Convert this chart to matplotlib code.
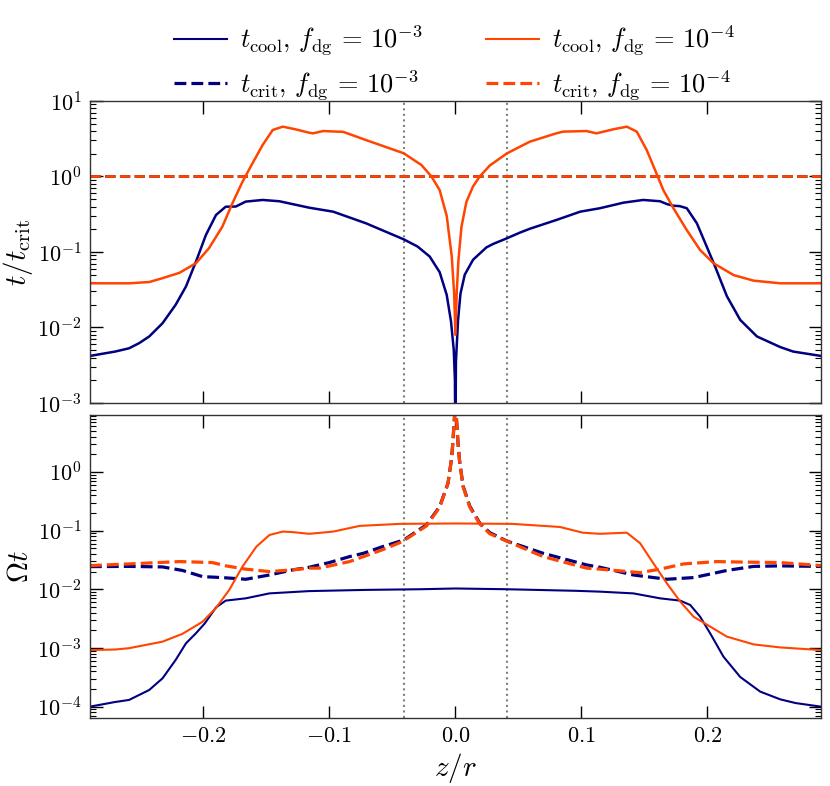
import numpy as np
import matplotlib
matplotlib.use("Agg")
import matplotlib.pyplot as plt
from matplotlib.ticker import LogLocator, NullLocator, NullFormatter

plt.rcParams['mathtext.fontset'] = 'cm'
plt.rcParams['font.family'] = 'serif'
plt.rcParams['font.serif'] = ['cmr10', 'DejaVu Serif']
plt.rcParams['axes.formatter.use_mathtext'] = True
plt.rcParams['font.size'] = 16

# Colours
c_hi = 'navy'        # f_dg = 1e-3
c_lo = '#ff4500'     # f_dg = 1e-4

# ---- top panel: t / t_crit ----
z_top_hi = [-0.290, -0.270, -0.259, -0.251, -0.243, -0.2324, -0.222, -0.2138, -0.2059,
            -0.198, -0.190, -0.1823, -0.1743, -0.1664, -0.153, -0.1397, -0.116, -0.097,
            -0.071, -0.041, -0.030, -0.0204, -0.0125, -0.0069, -0.0035, -0.0013,
            -0.0004, 0.0,
            0.0004, 0.0021, 0.004, 0.0074, 0.014, 0.0246, 0.030, 0.0405, 0.051, 0.059,
            0.080, 0.099, 0.1147, 0.1333, 0.149, 0.1624, 0.168, 0.173, 0.178,
            0.1836, 0.1916, 0.1995, 0.2061, 0.2154, 0.226, 0.2393, 0.2578, 0.268,
            0.290]
ratio_hi = [0.0042, 0.0048, 0.0053, 0.0062, 0.0076, 0.0114, 0.020, 0.035, 0.0745,
            0.168, 0.309, 0.398, 0.40, 0.465, 0.489, 0.47, 0.386, 0.342,
            0.24, 0.147, 0.118, 0.087, 0.054, 0.027, 0.012, 0.005,
            0.002, 0.0002,
            0.0035, 0.0126, 0.028, 0.050, 0.079, 0.115, 0.128, 0.151, 0.180, 0.203,
            0.265, 0.342, 0.38, 0.45, 0.489, 0.47, 0.43, 0.41, 0.405,
            0.38, 0.24, 0.117, 0.064, 0.026, 0.0126, 0.0076, 0.0055, 0.0048,
            0.0042]

z_top_lo = [-0.290, -0.259, -0.243, -0.2324, -0.219, -0.2059, -0.1956, -0.185, -0.177,
            -0.169, -0.161, -0.153, -0.145, -0.137, -0.127, -0.116, -0.113, -0.105,
            -0.089, -0.071, -0.041, -0.027, -0.019, -0.0125, -0.0069, -0.0029,
            -0.001, 0.0,
            0.001, 0.0024, 0.0048, 0.0087, 0.014, 0.0193, 0.0273, 0.041, 0.059,
            0.080, 0.0855, 0.104, 0.112, 0.1253, 0.136, 0.1439, 0.1518, 0.1584,
            0.165, 0.173, 0.1836, 0.1942, 0.2048, 0.2207, 0.2366, 0.2578, 0.290]
ratio_lo = [0.0385, 0.0385, 0.040, 0.045, 0.053, 0.071, 0.112, 0.216, 0.44,
            0.85, 1.50, 2.61, 4.13, 4.57, 4.22, 3.80, 3.73, 4.0,
            3.9, 3.04, 2.03, 1.42, 1.0, 0.66, 0.30, 0.087,
            0.028, 0.008,
            0.028, 0.078, 0.216, 0.46, 0.74, 1.0, 1.40, 2.03, 2.89,
            3.73, 3.93, 4.0, 3.73, 4.22, 4.57, 3.93, 2.24, 1.22,
            0.66, 0.38, 0.195, 0.106, 0.071, 0.0495, 0.0417, 0.0385, 0.0385]

z_span = [-0.29, 0.29]
ratio_crit = [1.0, 1.0]

# ---- bottom panel: Omega t ----
z_cool_hi = [-0.290, -0.270, -0.259, -0.243, -0.2324, -0.222, -0.2138, -0.2059, -0.199,
             -0.190, -0.1823, -0.1664, -0.1476, -0.116, -0.071, -0.028, 0.0,
             0.041, 0.096, 0.1147, 0.1412, 0.1624, 0.1783, 0.1863, 0.1942, 0.2021,
             0.2127, 0.226, 0.2419, 0.2578, 0.270, 0.290]
om_cool_hi = [1.0e-4, 1.2e-4, 1.3e-4, 1.92e-4, 3.04e-4, 6.25e-4, 1.2e-3, 1.78e-3, 2.6e-3,
              4.9e-3, 6.4e-3, 7.0e-3, 8.5e-3, 9.3e-3, 9.75e-3, 1.0e-2, 1.03e-2,
              1.0e-2, 9.4e-3, 9.1e-3, 8.5e-3, 7.0e-3, 6.4e-3, 5.4e-3, 3.4e-3, 1.78e-3,
              7.1e-4, 3.2e-4, 1.8e-4, 1.33e-4, 1.15e-4, 1.0e-4]

z_cool_lo = [-0.290, -0.270, -0.259, -0.2324, -0.2166, -0.2006, -0.190, -0.1794, -0.169,
             -0.158, -0.1476, -0.137, -0.129, -0.116, -0.097, -0.076, -0.044, 0.0,
             0.045, 0.083, 0.101, 0.1147, 0.136, 0.1465, 0.157, 0.1677, 0.1783,
             0.189, 0.1995, 0.2154, 0.2366, 0.2578, 0.290]
om_cool_lo = [9.2e-4, 9.4e-4, 9.9e-4, 1.28e-3, 1.74e-3, 2.8e-3, 4.8e-3, 9.8e-3, 0.0243,
              0.053, 0.084, 0.096, 0.094, 0.088, 0.096, 0.12, 0.13, 0.132,
              0.13, 0.115, 0.092, 0.088, 0.092, 0.061, 0.0278, 0.0127, 6.2e-3,
              3.4e-3, 2.5e-3, 1.56e-3, 1.15e-3, 1.02e-3, 9.2e-4]

z_crit_hi = [-0.290, -0.259, -0.2324, -0.2166, -0.2006, -0.185, -0.1664, -0.1476, -0.129,
             -0.116, -0.100, -0.084, -0.073, -0.058, -0.041, -0.023, -0.0125, -0.0059,
             -0.0032, -0.0021, -0.0014, 0.0,
             0.0014, 0.0021, 0.0032, 0.006, 0.0114, 0.0193, 0.0273, 0.041, 0.0696,
             0.104, 0.1147, 0.1412, 0.1677, 0.189, 0.2154, 0.2366, 0.2578, 0.290]
om_crit_hi = [0.0243, 0.0245, 0.024, 0.0209, 0.0164, 0.0158, 0.0148, 0.0175, 0.0214,
              0.0237, 0.0285, 0.036, 0.041, 0.053, 0.069, 0.125, 0.256, 0.64,
              1.6, 3.0, 5.2, 15.0,
              5.2, 3.0, 1.6, 0.58, 0.26, 0.134, 0.092, 0.066, 0.041,
              0.026, 0.0237, 0.0175, 0.0148, 0.0158, 0.0209, 0.0245, 0.025, 0.0245]

z_crit_lo = [-0.290, -0.259, -0.219, -0.1929, -0.182, -0.1664, -0.1476, -0.129, -0.116,
             -0.108, -0.084, -0.058, -0.042, -0.023, -0.0125, -0.0059, -0.0032,
             -0.0021, -0.0014, 0.0,
             0.0014, 0.0021, 0.0032, 0.006, 0.0114, 0.0193, 0.0273, 0.043, 0.0696,
             0.104, 0.1147, 0.1465, 0.1624, 0.181, 0.2074, 0.229, 0.2578, 0.290]
om_crit_lo = [0.0253, 0.027, 0.0296, 0.0285, 0.025, 0.022, 0.020, 0.0214, 0.0229,
              0.0229, 0.0296, 0.047, 0.065, 0.12, 0.25, 0.63, 1.6,
              3.0, 5.2, 15.0,
              5.2, 3.0, 1.6, 0.57, 0.25, 0.13, 0.088, 0.063, 0.036,
              0.0229, 0.022, 0.0192, 0.022, 0.027, 0.0296, 0.029, 0.0285, 0.0253]

z_marks = [-0.041, 0.041]


def style_axis(ax):
    ax.set_yscale('log')
    ax.tick_params(which='both', direction='in', top=True, right=True)
    ax.tick_params(which='major', length=9, width=1, labelsize=16, pad=6)
    ax.tick_params(which='minor', length=4.5, width=0.8)
    ax.yaxis.set_minor_locator(LogLocator(base=10, subs=np.arange(2, 10), numticks=20))
    ax.yaxis.set_minor_formatter(NullFormatter())
    ax.xaxis.set_minor_locator(NullLocator())
    for s in ax.spines.values():
        s.set_color('#333333')
        s.set_linewidth(1.0)
    for zm in z_marks:
        ax.axvline(zm, color='gray', ls=':', lw=1.5, zorder=0)


fig = plt.figure(figsize=(8.3, 7.86), dpi=100)
ax1 = fig.add_axes([0.1084, 0.4873, 0.8806, 0.3842])
ax2 = fig.add_axes([0.1084, 0.0865, 0.8806, 0.3855], sharex=ax1)

style_axis(ax1)
style_axis(ax2)

# top
ax1.plot(z_top_hi, ratio_hi, color=c_hi, lw=1.8)
ax1.plot(z_span, ratio_crit, color=c_hi, lw=2.0, ls='--')
ax1.plot(z_top_lo, ratio_lo, color=c_lo, lw=1.8)
ax1.plot(z_span, ratio_crit, color=c_lo, lw=2.0, ls='--')
ax1.set_ylim(1e-3, 1e1)
ax1.set_ylabel(r'$t/t_{\rm crit}$', fontsize=21, labelpad=2)
plt.setp(ax1.get_xticklabels(), visible=False)

# bottom
l1, = ax2.plot(z_cool_hi, om_cool_hi, color=c_hi, lw=1.5)
l2, = ax2.plot(z_crit_hi, om_crit_hi, color=c_hi, lw=2.3, ls='--')
l3, = ax2.plot(z_cool_lo, om_cool_lo, color=c_lo, lw=1.5)
l4, = ax2.plot(z_crit_lo, om_crit_lo, color=c_lo, lw=2.3, ls='--')
ax2.set_ylim(6.4e-5, 9.3)
ax2.set_xlim(-0.29, 0.29)
ax2.set_xticks([-0.2, -0.1, 0.0, 0.1, 0.2])
ax2.set_ylabel(r'$\Omega t$', fontsize=21, labelpad=2)
ax2.set_xlabel(r'$z/r$', fontsize=21)

labels = [r'$t_{\rm cool},\, f_{\rm dg} \,=\, 10^{-3}$',
          r'$t_{\rm crit},\, f_{\rm dg} \,=\, 10^{-3}$',
          r'$t_{\rm cool},\, f_{\rm dg} \,=\, 10^{-4}$',
          r'$t_{\rm crit},\, f_{\rm dg} \,=\, 10^{-4}$']
fig.legend([l1, l2, l3, l4], labels, ncol=2, frameon=False, fontsize=19,
           loc='upper center', bbox_to_anchor=(0.548, 1.0),
           handlelength=2.0, handletextpad=0.5, columnspacing=2.4, labelspacing=0.4)

fig.align_ylabels([ax1, ax2])
fig.savefig('out.png', dpi=100)
